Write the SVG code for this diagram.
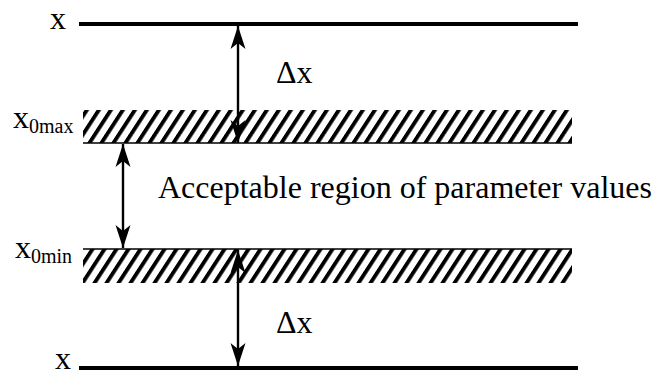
<svg xmlns="http://www.w3.org/2000/svg" width="652" height="376" viewBox="0 0 652 376">
  <style>
    text { font-family: "Liberation Serif", "Times New Roman", serif; fill: #000; }
    .lbl { font-size: 32px; }
    .sub { font-size: 20px; }
    .thick { stroke: #000; stroke-width: 4; }
    .edge { stroke: #000; stroke-width: 1.6; }
    .arrow { stroke: #000; stroke-width: 2.4; fill: none; marker-start: url(#head); marker-end: url(#head); }
  </style>
  <defs>
    <pattern id="hatch" patternUnits="userSpaceOnUse" width="12" height="40" patternTransform="skewX(-33)">
      <rect x="0" y="0" width="4.6" height="40" fill="#000"/>
    </pattern>
    <marker id="head" markerUnits="userSpaceOnUse" markerWidth="26" markerHeight="18" viewBox="-24 -9 26 18" refX="0" refY="0" orient="auto-start-reverse">
      <path d="M0,0 L-23,-7.5 L-17,0 L-23,7.5 Z" fill="#000"/>
    </marker>
  </defs>
  <rect width="652" height="376" fill="#fff"/>

  <g id="line-x-top">
    <line class="thick" x1="79" y1="24" x2="578" y2="24"/>
    <text class="lbl" x="50" y="29">x</text>
  </g>

  <g id="band-x0max">
    <rect x="83" y="110" width="489" height="33" fill="url(#hatch)"/>
    <line class="edge" x1="83" y1="143" x2="572" y2="143"/>
    <text class="lbl" x="13" y="128">x<tspan class="sub" dy="5">0max</tspan></text>
  </g>

  <g id="band-x0min">
    <rect x="83" y="249" width="489" height="34" fill="url(#hatch)"/>
    <line class="edge" x1="83" y1="249" x2="572" y2="249"/>
    <text class="lbl" x="15" y="258">x<tspan class="sub" dy="5">0min</tspan></text>
  </g>

  <g id="line-x-bottom">
    <line class="thick" x1="79" y1="368" x2="578" y2="368"/>
    <text class="lbl" x="55" y="369">x</text>
  </g>

  <g id="label-dx-top">
    <text class="lbl" x="276" y="83">Δx</text>
  </g>
  <g id="label-acceptable">
    <text class="lbl" x="158" y="198">Acceptable region of parameter values</text>
  </g>
  <g id="label-dx-bottom">
    <text class="lbl" x="276" y="333">Δx</text>
  </g>

  <g id="connectors">
    <line class="arrow" x1="238" y1="26" x2="238" y2="143"/>
    <line class="arrow" x1="123" y1="144" x2="123" y2="248"/>
    <line class="arrow" x1="238" y1="250" x2="238" y2="366"/>
  </g>
</svg>
